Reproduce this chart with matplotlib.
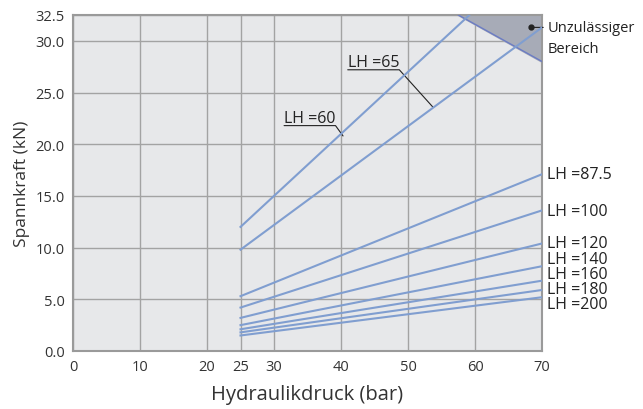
import matplotlib.pyplot as plt
import numpy as np

plt.rcParams['font.family'] = ['Open Sans', 'DejaVu Sans']

# Hydraulic pressure (bar) at start / end of each curve
p = [25, 70]

# Clamping force (kN) at 25 bar and 70 bar for each stroke length
curves = {
    'LH =60': [12.0, 39.0],
    'LH =65': [9.8, 31.3],
    'LH =87.5': [5.3, 17.1],
    'LH =100': [4.2, 13.6],
    'LH =120': [3.2, 10.4],
    'LH =140': [2.5, 8.2],
    'LH =160': [2.1, 6.8],
    'LH =180': [1.8, 5.9],
    'LH =200': [1.5, 5.2],
}

# right-hand label heights (kN)
right_labels = {
    'LH =87.5': 17.1,
    'LH =100': 13.5,
    'LH =120': 10.4,
    'LH =140': 8.9,
    'LH =160': 7.4,
    'LH =180': 6.0,
    'LH =200': 4.5,
}

# Forbidden zone corners (bar, kN)
zone_x = [57.5, 70, 70]
zone_y = [32.5, 32.5, 28.0]

xticks = [0, 10, 20, 25, 30, 40, 50, 60, 70]
yticks = [0, 5, 10, 15, 20, 25, 30, 32.5]

line_c = '#809ed0'
grid_c = '#a3a3a3'
txt_c = '#222222'

fig = plt.figure(figsize=(6.43, 4.10), dpi=100)
ax = fig.add_axes([0.1135, 0.1415, 0.7295, 0.8195])
ax.set_facecolor('#e7e8ea')

ax.set_xlim(0, 70)
ax.set_ylim(0, 32.5)
ax.set_xticks(xticks)
ax.set_yticks(yticks)
ax.set_yticklabels([f'{v:.1f}' for v in yticks])
ax.tick_params(length=0, labelsize=10.5, colors='#333333', pad=6)
ax.grid(True, color=grid_c, lw=1)
ax.set_axisbelow(True)
for s in ax.spines.values():
    s.set_color('#9a9a9a')
    s.set_linewidth(1.5)

# Forbidden zone
ax.fill(zone_x, zone_y, color='#a7abb7', zorder=2)
ax.plot([zone_x[0], zone_x[2]], [zone_y[0], zone_y[2]], color='#6b7cc4', lw=1, zorder=3)

for name, vals in curves.items():
    ax.plot(p, vals, color=line_c, lw=1.5, zorder=4, clip_on=True)

# Right labels
for name, y in right_labels.items():
    ax.text(70.8, y, name, fontsize=11.5, va='center', ha='left', color=txt_c,
            clip_on=False)

# Underlined labels with leaders
ax.annotate('LH =60', xy=(40.3, 20.8), xytext=(31.5, 21.8),
            fontsize=11.5, color=txt_c, va='bottom',
            arrowprops=dict(arrowstyle='-', color=txt_c, lw=0.8,
                            connectionstyle='angle,angleA=0,angleB=-54',
                            relpos=(0, 0), shrinkA=0, shrinkB=0, patchA=None))
ax.annotate('LH =65', xy=(53.7, 23.6), xytext=(41.0, 27.2),
            fontsize=11.5, color=txt_c, va='bottom',
            arrowprops=dict(arrowstyle='-', color=txt_c, lw=0.8,
                            connectionstyle='angle,angleA=0,angleB=-48',
                            relpos=(0, 0), shrinkA=0, shrinkB=0, patchA=None))

# Forbidden zone label
ax.plot([68.4], [31.3], 'o', color=txt_c, ms=3.5, zorder=6, clip_on=False)
ax.annotate('Unzulässiger', xy=(68.4, 31.3), xytext=(70.8, 31.3),
            fontsize=10.5, color=txt_c, va='center', ha='left',
            annotation_clip=False,
            arrowprops=dict(arrowstyle='-', color=txt_c, lw=0.8,
                            relpos=(0, 0.5), shrinkA=1, shrinkB=0))
ax.text(70.8, 29.3, 'Bereich', fontsize=10.5, color=txt_c, va='center', ha='left',
        clip_on=False)

ax.set_xlabel('Hydraulikdruck (bar)', fontsize=14.5, color='#333333', labelpad=7)
ax.set_ylabel('Spannkraft (kN)', fontsize=12.5, color='#333333', labelpad=4)

fig.savefig('out.png', dpi=100)
